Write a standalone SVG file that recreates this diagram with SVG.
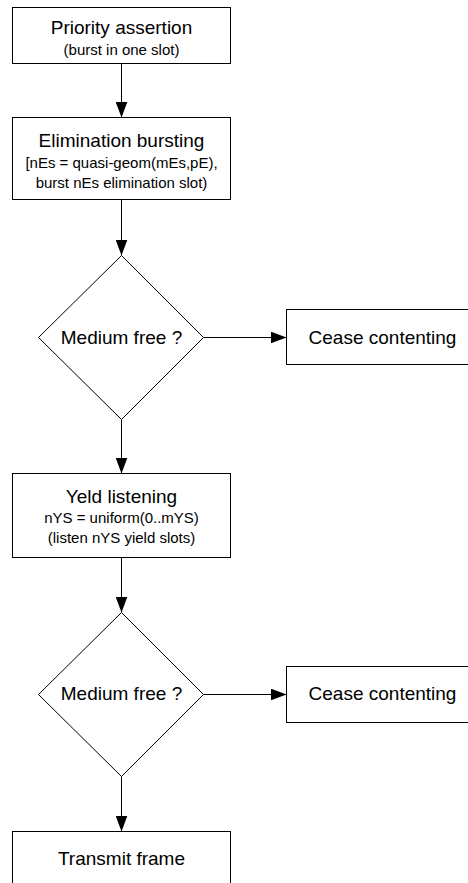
<svg xmlns="http://www.w3.org/2000/svg" width="468" height="883" viewBox="0 0 468 883">
  <style>
    .box { fill: #ffffff; stroke: #000000; stroke-width: 1; }
    .edge { fill: none; stroke: #000000; stroke-width: 1; }
    .t { font-family: "Liberation Sans", Arial, sans-serif; fill: #000000; text-anchor: middle; }
    .big { font-size: 19px; }
    .small { font-size: 15px; }
  </style>
  <defs>
    <marker id="arrow" markerUnits="userSpaceOnUse" markerWidth="16" markerHeight="12" refX="16" refY="6" orient="auto">
      <path d="M0,0 L16,6 L0,12 z" fill="#000000"/>
    </marker>
  </defs>
  <rect width="468" height="883" fill="#ffffff"/>

  <g id="connectors">
    <line class="edge" x1="121.5" y1="63.5" x2="121.5" y2="117.5" marker-end="url(#arrow)"/>
    <line class="edge" x1="121.5" y1="199.5" x2="121.5" y2="255.5" marker-end="url(#arrow)"/>
    <line class="edge" x1="203.5" y1="337.5" x2="286.5" y2="337.5" marker-end="url(#arrow)"/>
    <line class="edge" x1="121.5" y1="419.5" x2="121.5" y2="473.5" marker-end="url(#arrow)"/>
    <line class="edge" x1="121.5" y1="557.5" x2="121.5" y2="612.5" marker-end="url(#arrow)"/>
    <line class="edge" x1="203.5" y1="694.5" x2="286.5" y2="694.5" marker-end="url(#arrow)"/>
    <line class="edge" x1="121.5" y1="776.5" x2="121.5" y2="831.5" marker-end="url(#arrow)"/>
  </g>

  <g id="priority-assertion">
    <rect class="box" x="12.5" y="7.5" width="218" height="56"/>
    <text class="t big" x="121.5" y="33.5">Priority assertion</text>
    <text class="t small" x="121.5" y="54.5">(burst in one slot)</text>
  </g>

  <g id="elimination-bursting">
    <rect class="box" x="12.5" y="117.5" width="218" height="82"/>
    <text class="t big" x="121.5" y="146.5">Elimination bursting</text>
    <text class="t small" x="121.5" y="167.5">[nEs = quasi-geom(mEs,pE),</text>
    <text class="t small" x="121.5" y="187.5">burst nEs elimination slot)</text>
  </g>

  <g id="medium-free-1">
    <polygon class="box" points="121.5,255.5 203.5,337.5 121.5,419.5 38.5,337.5"/>
    <text class="t big" x="121.5" y="343.5">Medium free ?</text>
  </g>

  <g id="cease-contenting-1">
    <rect class="box" x="286.5" y="309.5" width="192" height="55"/>
    <text class="t big" x="382.5" y="343.5">Cease contenting</text>
  </g>

  <g id="yeld-listening">
    <rect class="box" x="12.5" y="473.5" width="218" height="84"/>
    <text class="t big" x="121.5" y="503">Yeld listening</text>
    <text class="t small" x="121.5" y="523">nYS = uniform(0..mYS)</text>
    <text class="t small" x="121.5" y="543">(listen nYS yield slots)</text>
  </g>

  <g id="medium-free-2">
    <polygon class="box" points="121.5,612.5 203.5,694.5 121.5,776.5 38.5,694.5"/>
    <text class="t big" x="121.5" y="700">Medium free ?</text>
  </g>

  <g id="cease-contenting-2">
    <rect class="box" x="286.5" y="666.5" width="192" height="56"/>
    <text class="t big" x="382.5" y="700">Cease contenting</text>
  </g>

  <g id="transmit-frame">
    <rect class="box" x="12.5" y="831.5" width="218" height="70"/>
    <text class="t big" x="121.5" y="865">Transmit frame</text>
  </g>
</svg>
